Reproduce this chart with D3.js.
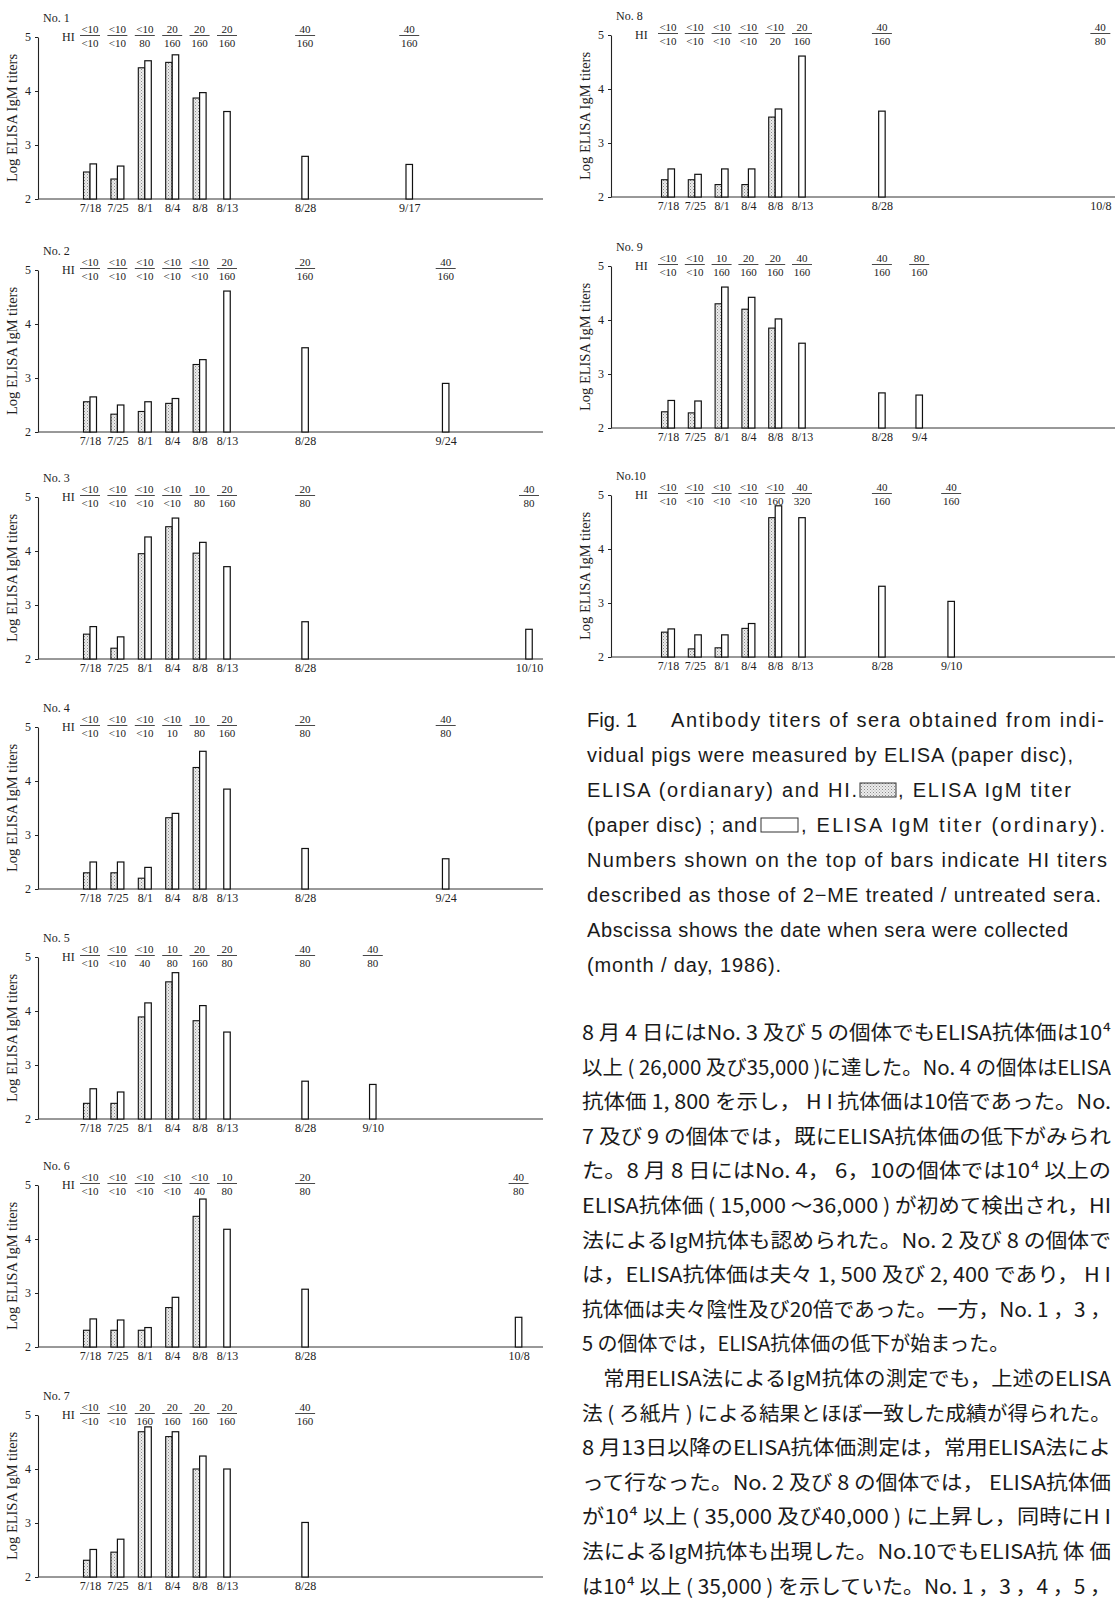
<!DOCTYPE html>
<html>
<head>
<meta charset="utf-8">
<script src="https://cdn.jsdelivr.net/npm/d3@7"></script>
<style>
  body { margin: 0; background: #fff; }
  svg { display: block; }
  .ser { font-family: "Liberation Serif", "DejaVu Serif", serif; fill: #222; }
  .cap { font-family: "Liberation Sans", "DejaVu Sans", sans-serif; fill: #1a1a1a; font-size: 20px; }
  .jp { font-family: "Noto Sans CJK JP", sans-serif; fill: #1a1a1a; font-size: 20px; }
</style>
</head>
<body>
<script>
// ---- data ----
var pigs = ["No. 1", "No. 2", "No. 3", "No. 4", "No. 5", "No. 6", "No. 7", "No. 8", "No. 9", "No.10"];
var earlyDates = ["7/18", "7/25", "8/1", "8/4", "8/8", "8/13"];
var lateDates = [
  ["8/28", "9/17"], ["8/28", "9/24"], ["8/28", "10/10"], ["8/28", "9/24"], ["8/28", "9/10"],
  ["8/28", "10/8"], ["8/28"], ["8/28", "10/8"], ["8/28", "9/4"], ["8/28", "9/10"]
];
// log ELISA IgM titer, paper disc (7/18 .. 8/8)
var paperDisc = [
  [2.50, 2.37, 4.43, 4.53, 3.87],
  [2.56, 2.33, 2.38, 2.53, 3.25],
  [2.46, 2.20, 3.95, 4.45, 3.96],
  [2.30, 2.30, 2.20, 3.32, 4.25],
  [2.29, 2.29, 3.89, 4.54, 3.82],
  [2.31, 2.31, 2.31, 2.73, 4.42],
  [2.31, 2.46, 4.69, 4.60, 4.00],
  [2.32, 2.32, 2.23, 2.23, 3.48],
  [2.30, 2.28, 4.30, 4.20, 3.85],
  [2.46, 2.15, 2.17, 2.53, 4.58]
];
// log ELISA IgM titer, ordinary (every date)
var ordinary = [
  [2.65, 2.61, 4.56, 4.67, 3.97, 3.62, 2.79, 2.64],
  [2.65, 2.50, 2.56, 2.62, 3.34, 4.61, 3.56, 2.90],
  [2.60, 2.41, 4.26, 4.61, 4.16, 3.71, 2.69, 2.55],
  [2.50, 2.50, 2.40, 3.40, 4.55, 3.85, 2.75, 2.56],
  [2.56, 2.50, 4.15, 4.71, 4.10, 3.61, 2.70, 2.64],
  [2.52, 2.50, 2.36, 2.92, 4.74, 4.18, 3.07, 2.55],
  [2.51, 2.70, 4.78, 4.69, 4.24, 4.00, 3.01],
  [2.52, 2.42, 2.52, 2.52, 3.63, 4.61, 3.59, 2.00],
  [2.51, 2.50, 4.61, 4.42, 4.02, 3.57, 2.65, 2.61],
  [2.52, 2.41, 2.41, 2.62, 4.80, 4.58, 3.31, 3.03]
];
// HI titers: 2-ME treated / untreated
var hiTreated = [
  ["<10", "<10", "<10", "20", "20", "20", "40", "40"],
  ["<10", "<10", "<10", "<10", "<10", "20", "20", "40"],
  ["<10", "<10", "<10", "<10", "10", "20", "20", "40"],
  ["<10", "<10", "<10", "<10", "10", "20", "20", "40"],
  ["<10", "<10", "<10", "10", "20", "20", "40", "40"],
  ["<10", "<10", "<10", "<10", "<10", "10", "20", "40"],
  ["<10", "<10", "20", "20", "20", "20", "40"],
  ["<10", "<10", "<10", "<10", "<10", "20", "40", "40"],
  ["<10", "<10", "10", "20", "20", "40", "40", "80"],
  ["<10", "<10", "<10", "<10", "<10", "40", "40", "40"]
];
var hiUntreated = [
  ["<10", "<10", "80", "160", "160", "160", "160", "160"],
  ["<10", "<10", "<10", "<10", "<10", "160", "160", "160"],
  ["<10", "<10", "<10", "<10", "80", "160", "80", "80"],
  ["<10", "<10", "<10", "10", "80", "160", "80", "80"],
  ["<10", "<10", "40", "80", "160", "80", "80", "80"],
  ["<10", "<10", "<10", "<10", "40", "80", "80", "80"],
  ["<10", "<10", "160", "160", "160", "160", "160"],
  ["<10", "<10", "<10", "<10", "20", "160", "160", "80"],
  ["<10", "<10", "160", "160", "160", "160", "160", "160"],
  ["<10", "<10", "<10", "<10", "160", "320", "160", "160"]
];
var yTicks = [2, 3, 4, 5];

var captionLines = [
  "vidual pigs were measured by ELISA (paper disc),",
  "Numbers shown on the top of bars indicate HI titers",
  "described as those of 2\u2212ME treated / untreated sera.",
  "Abscissa shows the date when sera were collected",
  "(month / day, 1986)."
];
var bodyLines = [
  "8 月 4 日にはNo. 3 及び 5 の個体でもELISA抗体価は10⁴",
  "以上 ( 26,000 及び35,000 )に達した。No. 4 の個体はELISA",
  "抗体価 1, 800 を示し， H I 抗体価は10倍であった。No.",
  " 7 及び 9 の個体では，既にELISA抗体価の低下がみられ",
  "た。8 月 8 日にはNo. 4，  6，10の個体では10⁴  以上の",
  "ELISA抗体価 ( 15,000 〜36,000  ) が初めて検出され，HI",
  "法によるIgM抗体も認められた。No. 2  及び 8 の個体で",
  "は，ELISA抗体価は夫々 1, 500 及び 2, 400 であり， H I",
  "抗体価は夫々陰性及び20倍であった。一方，No. 1 ，3 ，",
  " 5 の個体では，ELISA抗体価の低下が始まった。",
  "　常用ELISA法によるIgM抗体の測定でも，上述のELISA",
  "法 ( ろ紙片 ) による結果とほぼ一致した成績が得られた。",
  " 8 月13日以降のELISA抗体価測定は，常用ELISA法によ",
  "って行なった。No. 2 及び 8 の個体では， ELISA抗体価",
  "が10⁴  以上 ( 35,000 及び40,000  ) に上昇し，同時にH I",
  "法によるIgM抗体も出現した。No.10でもELISA抗 体 価",
  "は10⁴  以上 ( 35,000  ) を示していた。No. 1 ，3 ，4 ，5 ，"
];

// ---- layout ----
var W = 1115, H = 1605;
var leftTops = [37, 270, 497, 727, 957, 1185, 1415];
var rightTops = [35, 266, 495];
var panelH = 162;
var bw = 6.5;

var parseDate = function(s) { return d3.timeParse("%m/%d/%Y")(s + "/1986"); };

function panelPos(i) {
  if (i < 7) return { col: 0, ax: 38, top: leftTops[i], end: 543, title: 17 };
  return { col: 1, ax: 611, top: rightTops[i - 7], end: W, title: 590 };
}

// first six samplings sit on equal slots, later ones on a day scale
function xScale(col, ax) {
  var r = col === 0 ? [52, 79.4, 106.8, 134.2, 161.6, 189, 491] : [57, 83.8, 110.6, 137.4, 164.2, 191, 500];
  return d3.scaleTime()
    .domain(earlyDates.concat(["10/10"]).map(parseDate))
    .range(r.map(function(v) { return v + ax; }));
}

var svg = d3.select("body").append("svg").attr("width", W).attr("height", H);

var pat = svg.append("defs").append("pattern")
  .attr("id", "dots").attr("width", 3).attr("height", 3)
  .attr("patternUnits", "userSpaceOnUse");
pat.append("rect").attr("width", 3).attr("height", 3).attr("fill", "#ececec");
pat.append("rect").attr("width", 1).attr("height", 1).attr("fill", "#8c8c8c");
pat.append("rect").attr("x", 1.5).attr("y", 1.5).attr("width", 1).attr("height", 1).attr("fill", "#a8a8a8");

pigs.forEach(function(name, i) {
  var p = panelPos(i);
  var g = svg.append("g").attr("class", "panel");
  var y = d3.scaleLinear().domain([2, 5]).range([p.top + panelH, p.top]);
  var x = xScale(p.col, p.ax);
  var dates = earlyDates.concat(lateDates[i]);
  var rows = dates.map(function(d, k) {
    return {
      date: parseDate(d),
      paper: k < 5 ? paperDisc[i][k] : null,
      ord: ordinary[i][k],
      hiT: hiTreated[i][k],
      hiU: hiUntreated[i][k]
    };
  });

  // y axis
  var ya = g.append("g")
    .attr("transform", "translate(" + p.ax + ",0)")
    .call(d3.axisLeft(y).tickValues(yTicks).tickSize(3).tickSizeOuter(0).tickPadding(4).tickFormat(d3.format("d")));
  ya.select(".domain").attr("stroke", "#222").attr("stroke-width", 1.1);
  ya.selectAll(".tick line").attr("stroke", "#222");
  ya.selectAll(".tick text").attr("font-size", 12).attr("fill", "#222")
    .attr("font-family", "Liberation Serif, DejaVu Serif, serif");

  // baseline
  g.append("line")
    .attr("x1", p.ax).attr("x2", p.end)
    .attr("y1", y(2)).attr("y2", y(2))
    .attr("stroke", "#333").attr("stroke-width", 1);

  // date labels
  var xa = g.append("g")
    .attr("transform", "translate(0," + y(2) + ")")
    .call(d3.axisBottom(x).tickValues(rows.map(function(r) { return r.date; }))
      .tickSize(0).tickPadding(4).tickFormat(d3.timeFormat("%-m/%-d")));
  xa.select(".domain").remove();
  xa.selectAll(".tick text").attr("font-size", 12).attr("fill", "#222")
    .attr("font-family", "Liberation Serif, DejaVu Serif, serif");

  // paper disc bars (stippled)
  g.selectAll("rect.paper")
    .data(rows.filter(function(r) { return r.paper !== null; }))
    .join("rect").attr("class", "paper")
    .attr("x", function(r) { return x(r.date) - bw; })
    .attr("y", function(r) { return y(r.paper); })
    .attr("width", bw)
    .attr("height", function(r) { return y(2) - y(r.paper); })
    .attr("fill", "url(#dots)")
    .attr("stroke", "#111").attr("stroke-width", 1.1);

  // ordinary bars (white)
  g.selectAll("rect.ord")
    .data(rows.filter(function(r) { return r.ord > 2; }))
    .join("rect").attr("class", "ord")
    .attr("x", function(r) { return r.paper !== null ? x(r.date) : x(r.date) - bw / 2; })
    .attr("y", function(r) { return y(r.ord); })
    .attr("width", bw)
    .attr("height", function(r) { return y(2) - y(r.ord); })
    .attr("fill", "#fff")
    .attr("stroke", "#111").attr("stroke-width", 1.2);

  // titles
  g.append("text").attr("class", "ser")
    .attr("x", p.ax + 5).attr("y", p.top - 15)
    .attr("font-size", 12).text(name);
  g.append("text").attr("class", "ser")
    .attr("x", p.ax + 24).attr("y", p.top + 4)
    .attr("font-size", 12).text("HI");
  g.append("text").attr("class", "ser")
    .attr("transform", "translate(" + p.title + "," + (p.top + panelH / 2) + ") rotate(-90)")
    .attr("text-anchor", "middle").attr("font-size", 14)
    .attr("textLength", 128).attr("lengthAdjust", "spacingAndGlyphs")
    .text("Log ELISA IgM titers");

  // HI fractions
  var fr = g.selectAll("g.hi").data(rows).join("g").attr("class", "hi")
    .attr("transform", function(r) { return "translate(" + x(r.date) + "," + p.top + ")"; });
  fr.append("text").attr("class", "ser").attr("text-anchor", "middle")
    .attr("y", -4).attr("font-size", 11).text(function(r) { return r.hiT; });
  fr.append("line").attr("x1", -10).attr("x2", 10).attr("y1", -1.5).attr("y2", -1.5)
    .attr("stroke", "#333").attr("stroke-width", 0.9);
  fr.append("text").attr("class", "ser").attr("text-anchor", "middle")
    .attr("y", 9.5).attr("font-size", 11).text(function(r) { return r.hiU; });
});

// ---- caption ----
var cap = svg.append("g").attr("class", "cap");
var capTop = 727, capStep = 35;
cap.append("text").attr("x", 587).attr("y", capTop).text("Fig. 1");
cap.append("text").attr("x", 671).attr("y", capTop)
  .attr("textLength", 433).attr("lengthAdjust", "spacing")
  .text("Antibody titers of sera obtained from indi-");
cap.append("text").attr("x", 587).attr("y", capTop + capStep)
  .attr("textLength", 486).attr("lengthAdjust", "spacing").text(captionLines[0]);
// line with stippled legend box
cap.append("text").attr("x", 587).attr("y", capTop + 2 * capStep)
  .attr("textLength", 270).attr("lengthAdjust", "spacing").text("ELISA (ordianary) and HI.");
cap.append("rect").attr("x", 860).attr("y", capTop + 2 * capStep - 14).attr("width", 36).attr("height", 14)
  .attr("fill", "url(#dots)").attr("stroke", "#333").attr("stroke-width", 1);
cap.append("text").attr("x", 898).attr("y", capTop + 2 * capStep)
  .attr("textLength", 173).attr("lengthAdjust", "spacing").text(", ELISA IgM titer");
// line with white legend box
cap.append("text").attr("x", 587).attr("y", capTop + 3 * capStep)
  .attr("textLength", 170).attr("lengthAdjust", "spacing").text("(paper disc) ; and");
cap.append("rect").attr("x", 761).attr("y", capTop + 3 * capStep - 14).attr("width", 37).attr("height", 14)
  .attr("fill", "#fff").attr("stroke", "#333").attr("stroke-width", 1);
cap.append("text").attr("x", 801).attr("y", capTop + 3 * capStep)
  .attr("textLength", 304).attr("lengthAdjust", "spacing").text(", ELISA IgM titer (ordinary).");
var capLens = [520, 514, 481, 194];
captionLines.slice(1).forEach(function(t, k) {
  cap.append("text").attr("x", 587).attr("y", capTop + (4 + k) * capStep)
    .attr("textLength", capLens[k]).attr("lengthAdjust", "spacing").text(t);
});

// ---- Japanese body text ----
var jp = svg.append("g").attr("class", "jp");
bodyLines.forEach(function(t, k) {
  var el = jp.append("text").attr("x", 582).attr("y", 1040 + k * 34.6).text(t);
  if (k !== 9) el.attr("textLength", 529).attr("lengthAdjust", "spacingAndGlyphs");
});
</script>
</body>
</html>
